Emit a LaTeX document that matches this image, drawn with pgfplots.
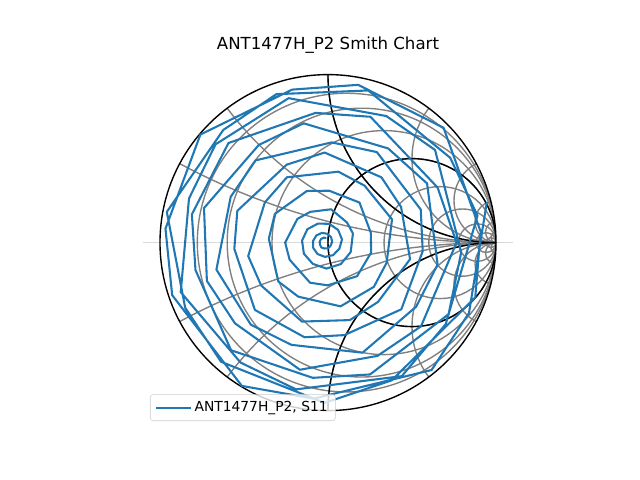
\documentclass[border=0pt]{standalone}
\usepackage{pgfplots}
\pgfplotsset{compat=1.18}
\usepackage{fontspec}
\setmainfont{DejaVu Sans}
\definecolor{c0}{HTML}{1F77B4}
\definecolor{mgrey}{HTML}{808080}
\begin{document}
\begin{tikzpicture}
\path[use as bounding box] (0,0) rectangle (6.4in,4.8in);
\begin{axis}[at={(1.432in,0.526in)}, anchor=south west, scale only axis,
  width=3.696in, height=3.696in, xmin=-1.1, xmax=1.1, ymin=-1.1, ymax=1.1,
  hide axis, disabledatascaling, clip=false,
  legend style={at={(axis description cs:0,0)}, anchor=south west, xshift=0.068in, yshift=0.064in,
    draw=black!20, rounded corners=2pt, fill=white, fill opacity=0.8, text opacity=1,
    font=\fontsize{10}{12}\selectfont, inner xsep=3.5pt, inner ysep=3pt, cells={anchor=west}},
  legend image code/.code={\draw[#1] (0pt,0pt) -- (20pt,0pt); \path (0pt,0pt) -- (25pt,0pt);}]
\begin{scope}
\clip (axis cs:0,0) circle[radius=1];
\begin{scope}[mgrey, line width=1pt]
% constant resistance circles
\draw (axis cs:0.1111,0) circle[radius=0.8889];
\draw (axis cs:0.2,0) circle[radius=0.8];
\draw (axis cs:0.3333,0) circle[radius=0.6667];
\draw (axis cs:0.5,0) circle[radius=0.5];
\draw (axis cs:0.6667,0) circle[radius=0.3333];
\draw (axis cs:0.8,0) circle[radius=0.2];
\draw (axis cs:0.8889,0) circle[radius=0.1111];
\draw (axis cs:0.9412,0) circle[radius=0.0588];
\draw (axis cs:0.9697,0) circle[radius=0.0303];
% constant reactance circles
\draw (axis cs:1,4) circle[radius=4];
\draw (axis cs:1,2) circle[radius=2];
\draw (axis cs:1,1) circle[radius=1];
\draw (axis cs:1,0.5) circle[radius=0.5];
\draw (axis cs:1,0.25) circle[radius=0.25];
\draw (axis cs:1,0.125) circle[radius=0.125];
\draw (axis cs:1,0.0625) circle[radius=0.0625];
\draw (axis cs:1,0.03125) circle[radius=0.03125];
\draw (axis cs:1,-4) circle[radius=4];
\draw (axis cs:1,-2) circle[radius=2];
\draw (axis cs:1,-1) circle[radius=1];
\draw (axis cs:1,-0.5) circle[radius=0.5];
\draw (axis cs:1,-0.25) circle[radius=0.25];
\draw (axis cs:1,-0.125) circle[radius=0.125];
\draw (axis cs:1,-0.0625) circle[radius=0.0625];
\draw (axis cs:1,-0.03125) circle[radius=0.03125];
\end{scope}
\begin{scope}[black, line width=1pt]
\draw (axis cs:0.5,0) circle[radius=0.5];
\draw (axis cs:1,1) circle[radius=1];
\draw (axis cs:1,-1) circle[radius=1];
\end{scope}
\end{scope}
\draw[black, line width=1pt] (axis cs:0,0) circle[radius=1];
\addplot[color=c0, line width=1.5pt, line join=round, mark=none]
 table[x expr={\thisrow{r}*cos(\thisrow{a})-0.02}, y expr={\thisrow{r}*sin(\thisrow{a})}] {
a r
14 0.995
-26 0.956
-50 0.99
-94 0.931
-120 0.985
-161 0.96
-185 0.951
-221 0.98
-258 0.931
-282 0.96
-316 0.984
-356 0.931
-380 0.954
-424 0.912
-450 0.954
-491 0.94
-515 0.916
-551 0.957
-588 0.902
-612 0.929
-646 0.942
-686 0.902
-710 0.924
-754 0.869
-780 0.918
-821 0.89
-845 0.872
-881 0.906
-918 0.849
-942 0.874
-976 0.886
-1016 0.838
-1040 0.858
-1084 0.815
-1110 0.852
-1151 0.83
-1175 0.808
-1211 0.849
-1248 0.786
-1272 0.808
-1306 0.824
-1346 0.774
-1370 0.797
-1414 0.748
-1440 0.785
-1481 0.76
-1505 0.744
-1541 0.771
-1578 0.718
-1602 0.737
-1636 0.747
-1676 0.701
-1700 0.721
-1744 0.676
-1770 0.704
-1811 0.685
-1835 0.665
-1871 0.693
-1908 0.640
-1932 0.657
-1966 0.664
-2006 0.622
-2030 0.639
-2074 0.598
-2100 0.622
-2141 0.605
-2165 0.586
-2201 0.605
-2238 0.563
-2262 0.576
-2296 0.577
-2336 0.539
-2360 0.553
-2404 0.516
-2430 0.536
-2471 0.515
-2495 0.502
-2531 0.518
-2568 0.475
-2592 0.485
-2626 0.489
-2666 0.456
-2690 0.462
-2734 0.429
-2760 0.449
-2801 0.43
-2825 0.414
-2861 0.424
-2898 0.388
-2922 0.394
-2956 0.391
-2996 0.358
-3020 0.360
-3064 0.333
-3090 0.342
-3131 0.325
-3155 0.310
-3191 0.316
-3228 0.281
-3252 0.283
-3286 0.278
-3326 0.255
-3350 0.254
-3394 0.232
-3420 0.235
-3461 0.215
-3485 0.202
-3521 0.202
-3558 0.179
-3582 0.177
-3620 0.165
-3653 0.16
-3686 0.155
-3719 0.145
-3752 0.14
-3785 0.135
-3818 0.13
-3851 0.12
-3884 0.115
-3917 0.11
-3950 0.105
-3983 0.095
-4016 0.09
-4049 0.085
-4082 0.08
-4115 0.075
-4148 0.07
-4181 0.065
-4214 0.06
-4247 0.055
-4280 0.05
-4313 0.045
-4346 0.04
-4379 0.04
-4412 0.035
-4445 0.035
-4478 0.03
-4511 0.03
-4544 0.03
-4577 0.03
-4610 0.03
};
\addlegendentry{ANT1477H\_P2, S11}
\draw[black, opacity=0.15, line width=0.7pt] (axis cs:-1.1,0) -- (axis cs:1.1,0);
\node[anchor=base, yshift=6.2pt, font=\fontsize{12}{14.4}\selectfont] at (axis description cs:0.5,1) {ANT1477H\_P2 Smith Chart};
\end{axis}
\end{tikzpicture}
\end{document}
